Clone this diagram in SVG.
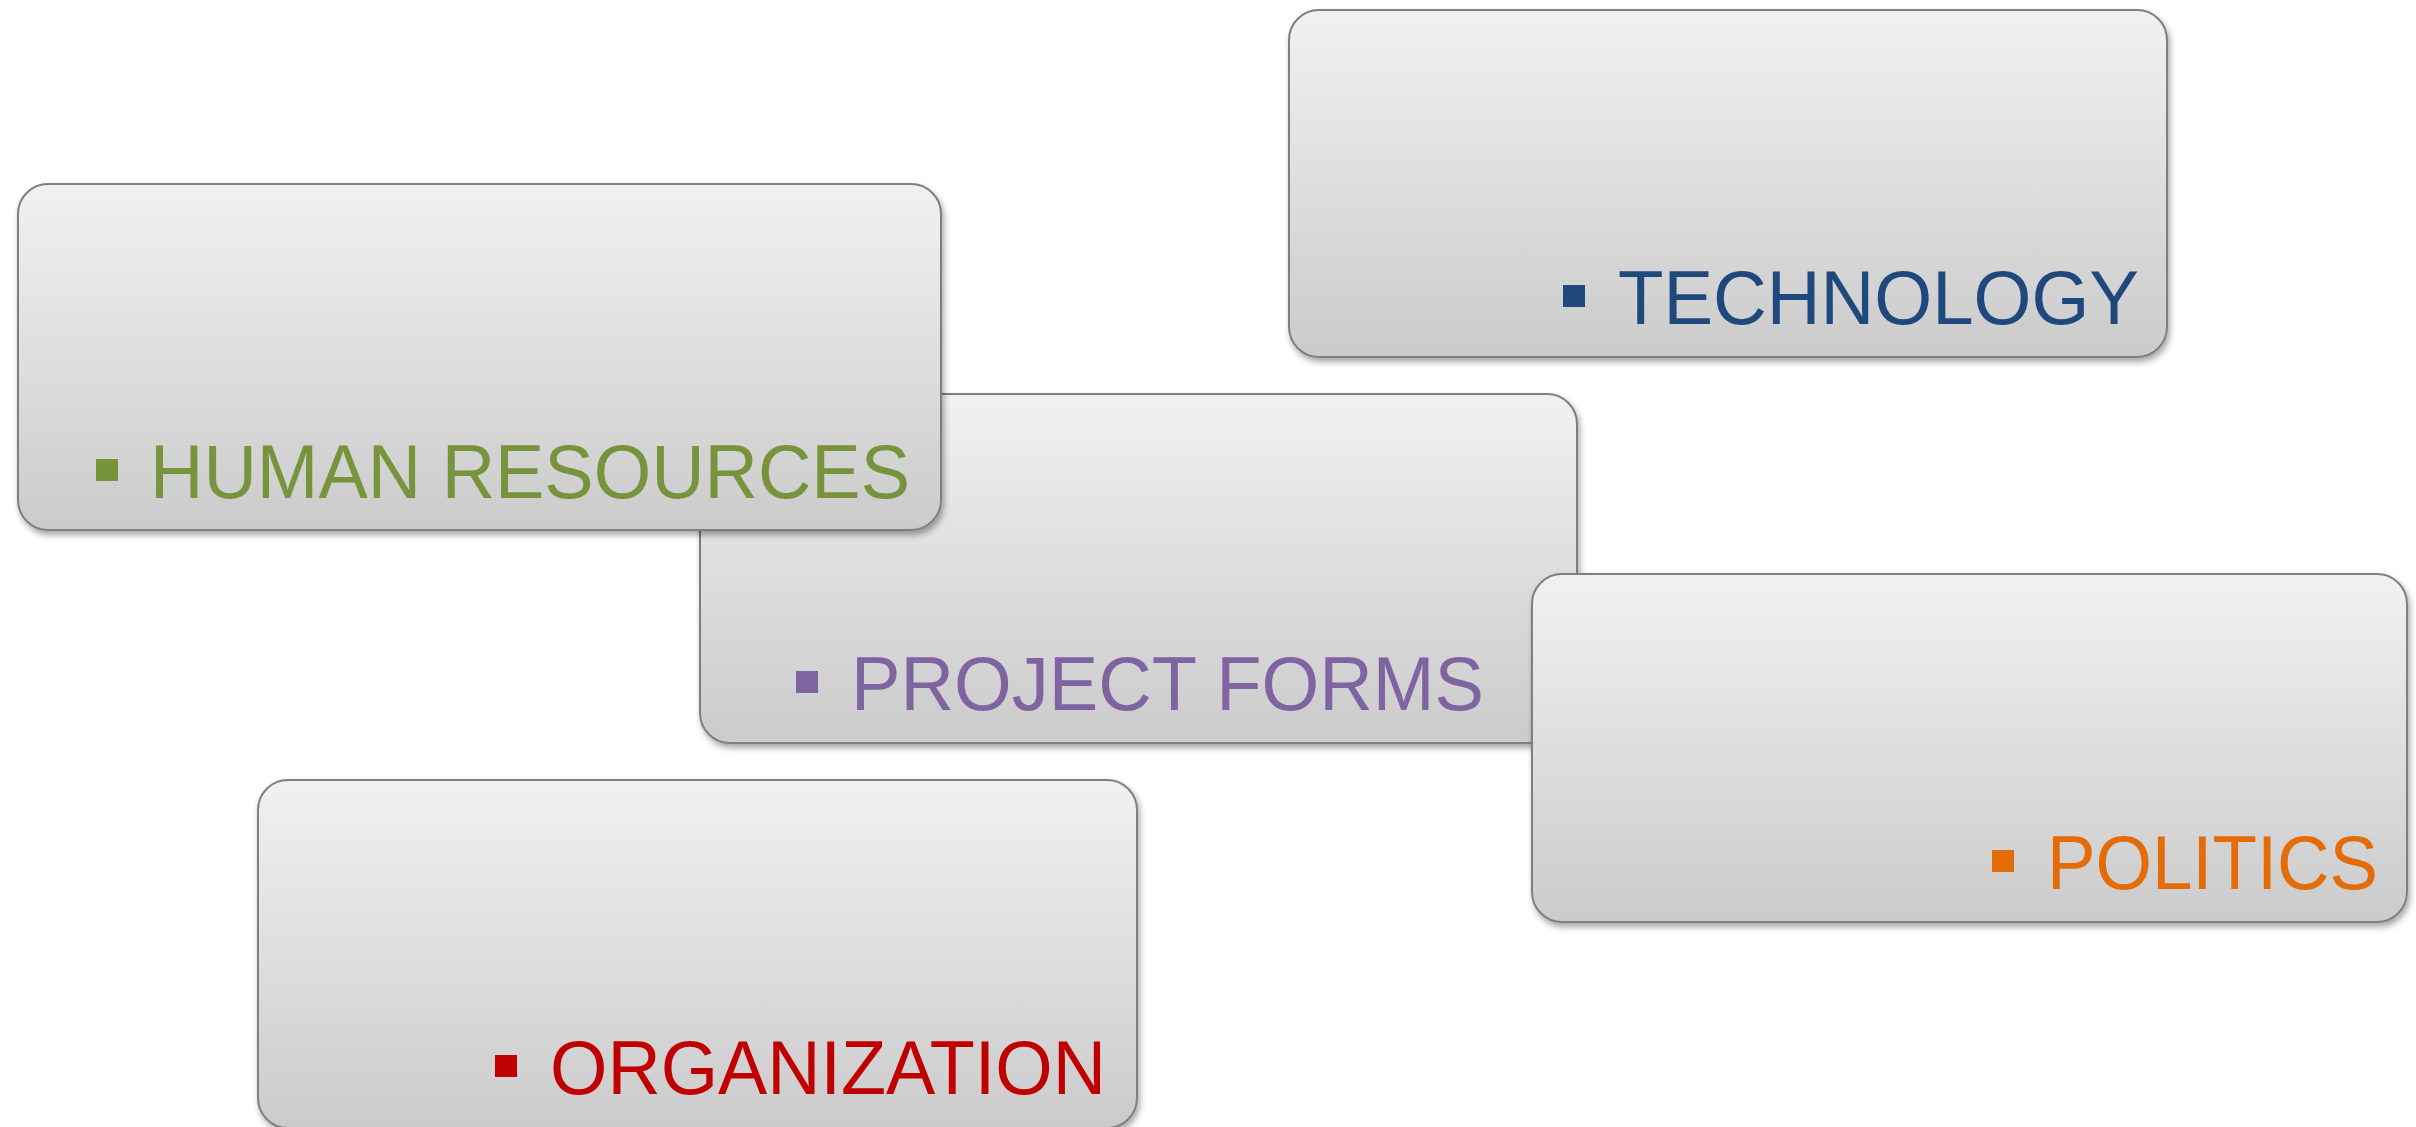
<svg xmlns="http://www.w3.org/2000/svg" width="2416" height="1127" viewBox="0 0 2416 1127">
<defs>
<linearGradient id="g" x1="0" y1="0" x2="0" y2="1">
<stop offset="0" stop-color="#F1F1F1"/>
<stop offset="1" stop-color="#CBCBCB"/>
</linearGradient>
<filter id="sh" x="-5%" y="-5%" width="110%" height="115%">
<feDropShadow dx="2" dy="4" stdDeviation="3" flood-color="#000" flood-opacity="0.35"/>
</filter>
<style>
.box{fill:url(#g);stroke:#7F7F7F;stroke-width:2;filter:url(#sh)}
.t{font-family:"Liberation Sans",Arial,sans-serif;font-size:76px}
</style>
</defs>
<rect width="2416" height="1127" fill="#FFFFFF"/>
<g id="connectors"/>
<g id="technology">
<rect class="box" x="1289" y="10" width="878" height="347" rx="30"/>
<rect x="1563" y="285" width="22" height="22" fill="#1F497D"/>
<text class="t" x="1618" y="324" fill="#1F497D" textLength="521" lengthAdjust="spacingAndGlyphs">TECHNOLOGY</text>
</g>
<g id="project-forms">
<rect class="box" x="700" y="394" width="877" height="349" rx="30"/>
<rect x="796" y="671" width="22" height="22" fill="#8064A2"/>
<text class="t" x="851" y="710" fill="#8064A2" textLength="633" lengthAdjust="spacingAndGlyphs">PROJECT FORMS</text>
</g>
<g id="human-resources">
<rect class="box" x="18" y="184" width="923" height="346" rx="30"/>
<rect x="96" y="459" width="22" height="22" fill="#77933C"/>
<text class="t" x="150" y="498" fill="#77933C" textLength="760" lengthAdjust="spacingAndGlyphs">HUMAN RESOURCES</text>
</g>
<g id="politics">
<rect class="box" x="1532" y="574" width="875" height="348" rx="30"/>
<rect x="1992" y="850" width="22" height="22" fill="#E36C09"/>
<text class="t" x="2047" y="889" fill="#E36C09" textLength="331" lengthAdjust="spacingAndGlyphs">POLITICS</text>
</g>
<g id="organization">
<rect class="box" x="258" y="780" width="879" height="348" rx="30"/>
<rect x="495" y="1055" width="22" height="22" fill="#C00000"/>
<text class="t" x="550" y="1094" fill="#C00000" textLength="556" lengthAdjust="spacingAndGlyphs">ORGANIZATION</text>
</g>
</svg>
